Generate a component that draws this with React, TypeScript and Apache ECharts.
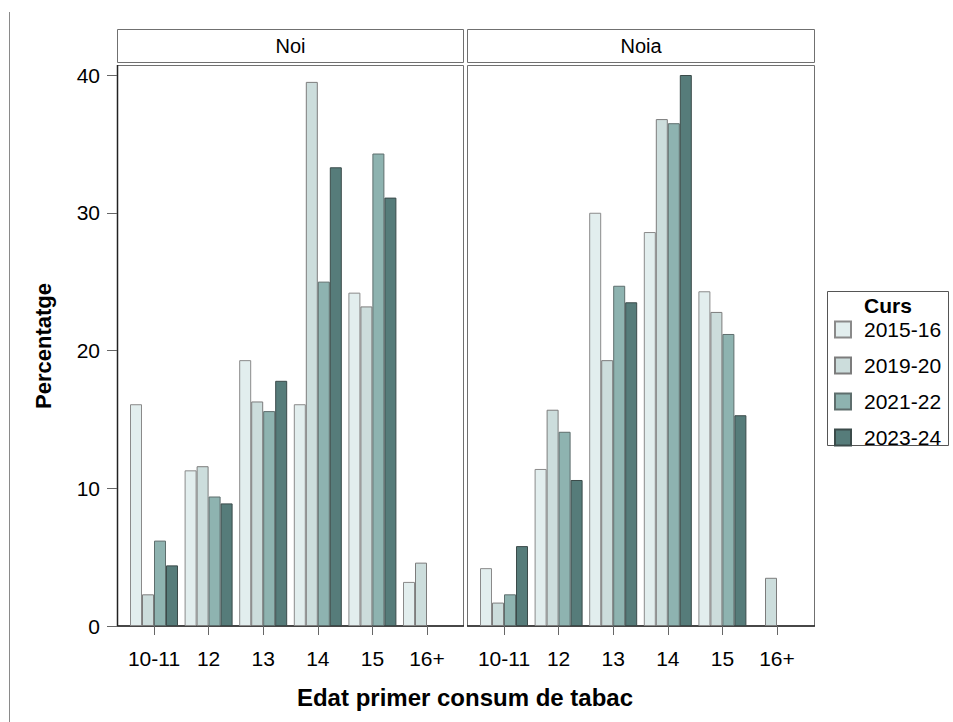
import React, { useEffect, useRef } from "react";
import * as echarts from "echarts";

const categories = ["10-11", "12", "13", "14", "15", "16+"];
const seriesNames = ["2015-16", "2019-20", "2021-22", "2023-24"];
const panelTitles = ["Noi", "Noia"];

// Noi (boys)
const noi2015 = [16.1, 11.3, 19.3, 16.1, 24.2, 3.2];
const noi2019 = [2.3, 11.6, 16.3, 39.5, 23.2, 4.6];
const noi2021 = [6.2, 9.4, 15.6, 25.0, 34.3, null];
const noi2023 = [4.4, 8.9, 17.8, 33.3, 31.1, null];

// Noia (girls)
const noia2015 = [4.2, 11.4, 30.0, 28.6, 24.3, null];
const noia2019 = [1.7, 15.7, 19.3, 36.8, 22.8, 3.5];
const noia2021 = [2.3, 14.1, 24.7, 36.5, 21.2, null];
const noia2023 = [5.8, 10.6, 23.5, 40.0, 15.3, null];

const colors = ["#E2EEEE", "#CCDDDC", "#8EB3B0", "#567C7A"];
const borders = ["#8a8a8a", "#7c7c7c", "#5e6e6d", "#3b4b4a"];

const FONT = "'Liberation Sans', Arial, sans-serif";

export default function App() {
  const ref = useRef<HTMLDivElement>(null);
  useEffect(() => {
    if (!ref.current) return;
    const chart = echarts.init(ref.current, null, { renderer: "svg" });
    const panels = [
      [noi2015, noi2019, noi2021, noi2023],
      [noia2015, noia2019, noia2021, noia2023],
    ];
    const panelX = [117, 467];
    const panelW = [347, 348];
    const band = 54.6;
    const inset = 9.7;

    const grids = panelX.map((px) => ({
      left: px + inset,
      width: band * categories.length,
      top: 75,
      bottom: 96,
    }));

    const xAxes = [0, 1].map((i) => ({
      type: "category",
      gridIndex: i,
      data: categories,
      offset: 3,
      axisLine: { show: false },
      axisTick: { show: true, alignWithLabel: true, interval: 0, length: 9, lineStyle: { color: "#666" } },
      axisLabel: { interval: 0, fontSize: 21, color: "#000", fontFamily: FONT, margin: 19 },
      splitLine: { show: false },
    }));

    const yAxes = [0, 1].map((i) => ({
      type: "value",
      gridIndex: i,
      min: 0,
      max: 40,
      interval: 10,
      offset: i === 0 ? inset : 0,
      show: i === 0,
      axisLine: { show: false },
      axisTick: { show: i === 0, length: 10, lineStyle: { color: "#666" } },
      axisLabel: { show: i === 0, fontSize: 21, color: "#000", fontFamily: FONT, margin: 17 },
      splitLine: { show: false },
    }));

    const series: any[] = [];
    panels.forEach((data, p) => {
      data.forEach((vals, s) => {
        series.push({
          type: "bar",
          name: seriesNames[s],
          xAxisIndex: p,
          yAxisIndex: p,
          data: vals,
          barWidth: 12,
          barGap: "0%",
          itemStyle: { color: colors[s], borderColor: borders[s], borderWidth: 1 },
          emphasis: { disabled: true },
        });
      });
    });

    const graphic: any[] = [];
    graphic.push({
      type: "line",
      shape: { x1: 9.5, y1: 12, x2: 9.5, y2: 722 },
      style: { stroke: "#8a8a8a", lineWidth: 1 },
      silent: true,
    });
    panelX.forEach((px, i) => {
      const w = panelW[i];
      graphic.push({
        type: "rect",
        shape: { x: px + 0.5, y: 29.5, width: w - 1, height: 33 },
        style: { fill: "#fff", stroke: "#707070", lineWidth: 1 },
        silent: true,
      });
      graphic.push({
        type: "text",
        x: px + w / 2,
        y: 46,
        style: {
          text: panelTitles[i],
          fontSize: 20,
          fontFamily: FONT,
          fill: "#000",
          align: "center",
          verticalAlign: "middle",
        },
        silent: true,
      });
      graphic.push({
        type: "rect",
        shape: { x: px + 0.5, y: 65.5, width: w - 1, height: 560.5 },
        style: { fill: "none", stroke: "#707070", lineWidth: 1 },
        silent: true,
      });
      graphic.push({
        type: "line",
        shape: { x1: px, y1: 626, x2: px + w, y2: 626 },
        style: { stroke: "#222", lineWidth: 1.5 },
        silent: true,
      });
      if (i === 0) {
        graphic.push({
          type: "line",
          shape: { x1: px + 0.5, y1: 65, x2: px + 0.5, y2: 626 },
          style: { stroke: "#222", lineWidth: 1.5 },
          silent: true,
        });
      }
    });
    graphic.push({
      type: "text",
      x: 465,
      y: 697,
      style: {
        text: "Edat primer consum de tabac",
        fontSize: 24,
        fontWeight: "bold",
        fontFamily: FONT,
        fill: "#000",
        align: "center",
        verticalAlign: "middle",
      },
      silent: true,
    });
    graphic.push({
      type: "text",
      x: 43,
      y: 346,
      rotation: Math.PI / 2,
      style: {
        text: "Percentatge",
        fontSize: 22,
        fontWeight: "bold",
        fontFamily: FONT,
        fill: "#000",
        align: "center",
        verticalAlign: "middle",
      },
      silent: true,
    });
    graphic.push({
      type: "rect",
      shape: { x: 827.5, y: 291.5, width: 121, height: 154 },
      style: { fill: "#fff", stroke: "#555", lineWidth: 1 },
      silent: true,
      z: -1,
    });
    graphic.push({
      type: "text",
      x: 888,
      y: 305,
      style: {
        text: "Curs",
        fontSize: 21,
        fontWeight: "bold",
        fontFamily: FONT,
        fill: "#000",
        align: "center",
        verticalAlign: "middle",
      },
      silent: true,
    });

    chart.setOption({
      animation: false,
      backgroundColor: "#fff",
      grid: grids,
      xAxis: xAxes,
      yAxis: yAxes,
      series,
      legend: {
        data: seriesNames,
        orient: "vertical",
        left: 834,
        top: 319,
        itemWidth: 16,
        itemHeight: 16,
        itemGap: 15,
        padding: 0,
        selectedMode: false,
        icon: "rect",
        textStyle: { fontSize: 21, color: "#000", fontFamily: FONT, padding: [0, 0, 0, 8] },
      },
      graphic,
    });
    return () => chart.dispose();
  }, []);
  return (
    <div
      ref={ref}
      style={{ position: "fixed", left: 0, top: 0, width: 953, height: 722 }}
    />
  );
}
